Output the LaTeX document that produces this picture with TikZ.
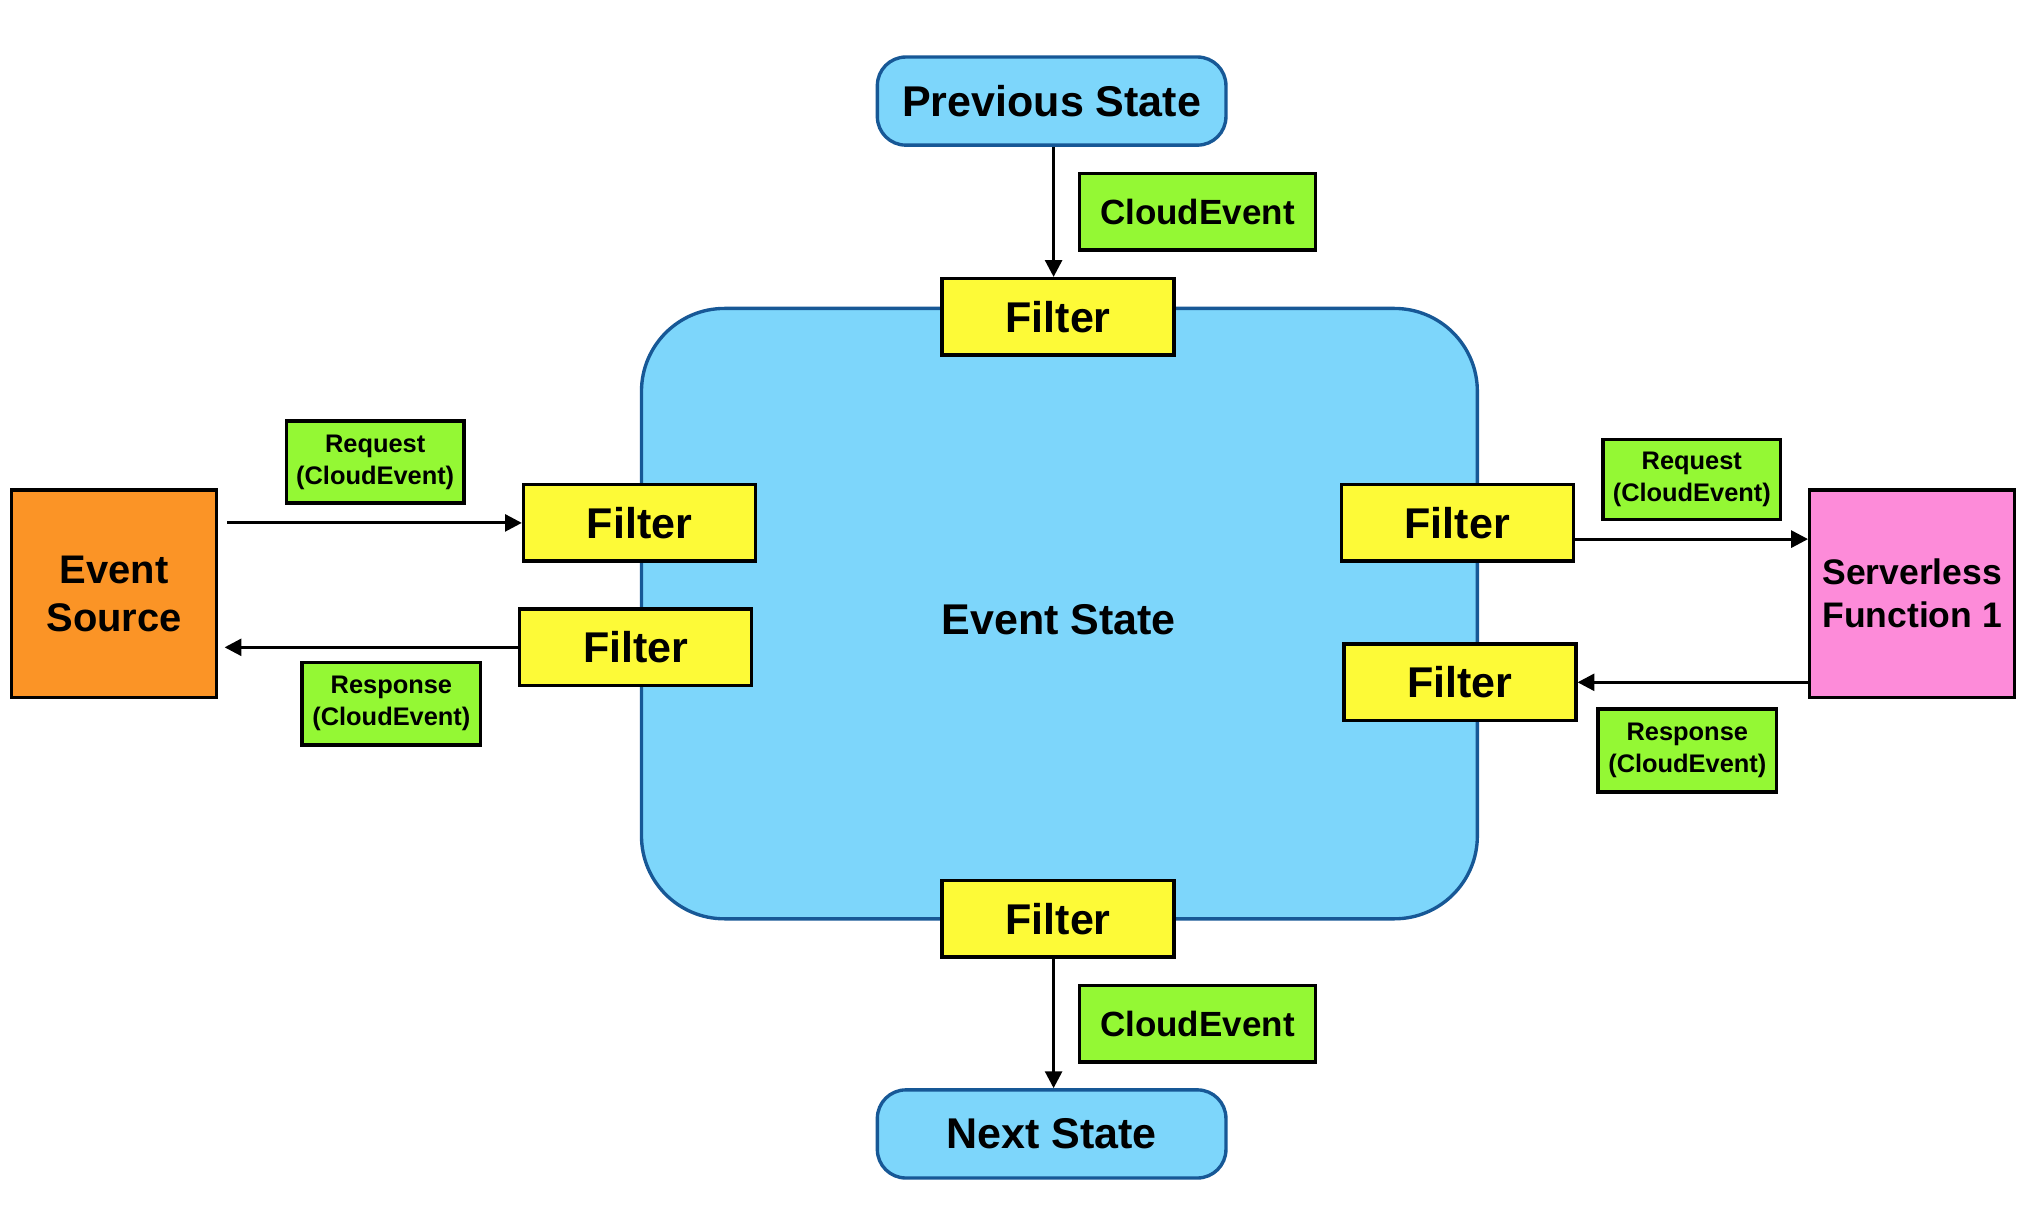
\documentclass[tikz,border=0pt]{standalone}
\usepackage{fontspec}
\setmainfont{Liberation Sans}
\usetikzlibrary{arrows.meta,calc}
\definecolor{stblue}{RGB}{125,214,251}
\definecolor{stborder}{RGB}{23,88,150}
\definecolor{fyellow}{RGB}{253,250,55}
\definecolor{cgreen}{RGB}{148,248,52}
\definecolor{sorange}{RGB}{251,148,38}
\definecolor{fpink}{RGB}{253,139,217}
\tikzset{
  statebox/.style={draw=stborder,fill=stblue,line width=1.3pt,rounded corners=11pt,
    minimum width=134.5pt,minimum height=34pt,inner sep=0pt,
    font=\fontsize{16.6}{19}\selectfont\bfseries},
  filterbox/.style={draw=black,fill=fyellow,line width=1.3pt,
    minimum width=89.5pt,minimum height=29.5pt,inner sep=0pt,
    font=\fontsize{16.6}{19}\selectfont\bfseries},
  cebox/.style={draw=black,fill=cgreen,line width=1.3pt,
    minimum width=91pt,minimum height=29.5pt,inner sep=0pt,
    font=\fontsize{13.5}{16}\selectfont\bfseries},
  msgbox/.style={draw=black,fill=cgreen,line width=1.3pt,
    minimum width=68.5pt,minimum height=31.5pt,inner sep=0pt,align=center,
    font=\fontsize{9.8}{12.3}\selectfont\bfseries},
  sidebox/.style={draw=black,line width=1.3pt,
    minimum width=79pt,minimum height=80pt,inner sep=0pt,align=center},
  arr/.style={draw=black,line width=1.2pt,-{Triangle[length=6.5pt,width=6.5pt]}}
}
\begin{document}
\begin{tikzpicture}[x=0.5pt,y=-0.5pt]
\useasboundingbox (0,0) rectangle (1568,936.8);
% big state
\node[draw=stborder,fill=stblue,line width=1.3pt,rounded corners=32pt,
  minimum width=322.5pt,minimum height=235.5pt,inner sep=0pt] (state) at (817.5,473.5) {};
\node[font=\fontsize{16.6}{19}\selectfont\bfseries,inner sep=0pt] (statetxt) at (817,478) {Event State};
% top
\node[statebox] (prev) at (811.5,78) {Previous State};
\node[cebox] (ce1) at (924,163.5) {CloudEvent};
\node[filterbox] (ftop) at (816.5,244.5) {Filter};
% bottom
\node[filterbox] (fbot) at (816.5,709) {Filter};
\node[cebox] (ce2) at (924,790) {CloudEvent};
\node[statebox] (next) at (811.5,875) {Next State};
% left
\node[filterbox] (fl1) at (493.5,403.5) {Filter};
\node[filterbox] (fl2) at (490.5,499.5) {Filter};
\node[sidebox,fill=sorange,font=\fontsize{15.4}{18.5}\selectfont\bfseries] (src) at (88,458) {Event\\Source};
\node[msgbox] (reqL) at (289.5,356.5) {Request\\(CloudEvent)};
\node[msgbox,minimum width=69pt,minimum height=32pt] (resL) at (302,543) {Response\\(CloudEvent)};
% right
\node[filterbox] (fr1) at (1124.5,403.5) {Filter};
\node[filterbox] (fr2) at (1126.5,526.5) {Filter};
\node[sidebox,fill=fpink,font=\fontsize{13.7}{16.5}\selectfont\bfseries] (fn) at (1475.5,458) {Serverless\\Function 1};
\node[msgbox,minimum height=31pt] (reqR) at (1305.5,370) {Request\\(CloudEvent)};
\node[msgbox,minimum width=69pt,minimum height=32pt] (resR) at (1302,579) {Response\\(CloudEvent)};
% connectors
\coordinate (ax) at (813,0);
\coordinate (ay) at (0,416);
\draw[arr] (prev.south -| ax) -- (ftop.north -| ax);
\draw[arr] (fbot.south -| ax) -- (next.north -| ax);
\draw[arr] ($(src.east |- fl1.west)+(7,0)$) -- (fl1.west);
\draw[arr] (fl2.west) -- ($(src.east |- fl2.west)+(5,0)$);
\draw[arr] (fr1.east |- ay) -- (fn.west |- ay);
\draw[arr] (fn.west |- fr2.east) -- (fr2.east);
\end{tikzpicture}
\end{document}
